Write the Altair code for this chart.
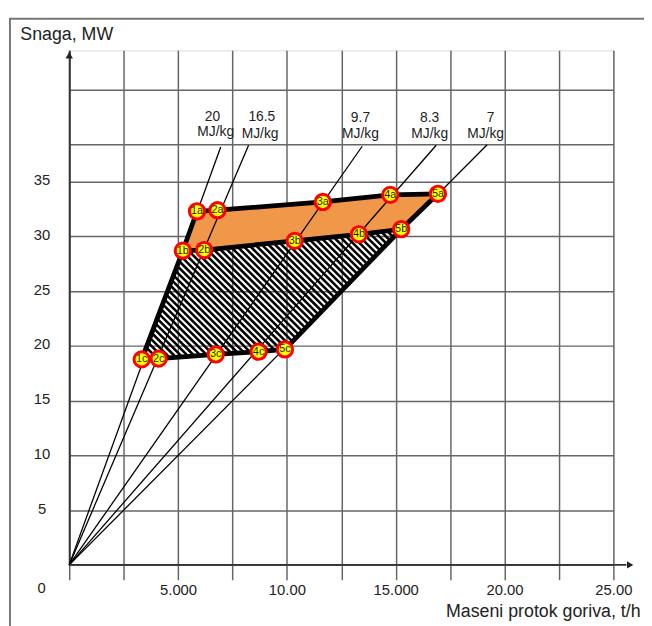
import altair as alt
import pandas as pd
import numpy as np

# ---------------- data ----------------
point_names = ["1a", "2a", "3a", "4a", "5a",
               "1b", "2b", "3b", "4b", "5b",
               "1c", "2c", "3c", "4c", "5c"]
point_x = [5.87, 6.81, 11.65, 14.75, 16.94,
           5.22, 6.20, 10.36, 13.31, 15.25,
           3.33, 4.11, 6.73, 8.70, 9.91]
point_y = [32.3, 32.4, 33.15, 33.8, 33.9,
           28.7, 28.76, 29.6, 30.2, 30.66,
           18.77, 18.84, 19.22, 19.47, 19.68]

heat_values = ["20", "16.5", "9.7", "8.3", "7"]
line_end_x = [6.96, 8.24, 13.46, 16.86, 19.20]
line_end_y = [38.18, 38.33, 38.24, 38.33, 38.38]
value_label_x = [6.58, 8.85, 13.38, 16.56, 19.36]
value_label_y = [40.9, 40.9, 40.8, 40.8, 40.8]
unit_label_x = [6.73, 8.77, 13.38, 16.56, 19.13]
unit_label_y = [39.5, 39.4, 39.4, 39.4, 39.4]
unit_text = "MJ/kg"

x_tick_values = [0, 2.5, 5, 7.5, 10, 12.5, 15, 17.5, 20, 22.5, 25]
x_tick_labels = ["", "", "5.000", "", "10.00", "", "15.000", "", "20.00", "", "25.00"]
y_tick_values = [0, 5, 10, 15, 20, 25, 30, 35, 38.45, 43.4]
y_tick_labels = ["", "5", "10", "15", "20", "25", "30", "35", "", ""]

orange_polygon = ["1a", "2a", "3a", "4a", "5a", "5b", "4b", "3b", "2b", "1b"]
hatch_polygon = ["1b", "5b", "5c", "1c"]
thick_paths = {
    "top": ["1a", "2a", "3a", "4a", "5a"],
    "mid": ["1b", "2b", "3b", "4b", "5b"],
    "bottom": ["1c", "2c", "3c", "4c", "5c"],
    "left": ["1a", "1b", "1c"],
    "right": ["5a", "5b", "5c"],
}

X_MAX, Y_MAX = 25, 47
W, H = 551, 521

# ---------------- tables ----------------
P = {n: (x, y) for n, x, y in zip(point_names, point_x, point_y)}
pts = pd.DataFrame({"name": point_names, "x": point_x, "y": point_y})

poly_df = pd.DataFrame({
    "x": [P[n][0] for n in orange_polygon],
    "y": [P[n][1] for n in orange_polygon],
    "ord": list(range(len(orange_polygon))),
})

rows = []
for k, (px, py) in enumerate(zip(line_end_x, line_end_y)):
    rows.append({"line": heat_values[k], "x": 0.0, "y": 0.0, "ord": 0})
    rows.append({"line": heat_values[k], "x": px, "y": py, "ord": 1})
rays = pd.DataFrame(rows)

rows = []
for key, names in thick_paths.items():
    for i, n in enumerate(names):
        rows.append({"path": key, "x": P[n][0], "y": P[n][1], "ord": i})
thick = pd.DataFrame(rows)

# hatch texture (45 degree on screen) clipped to the hatched polygon
s = (W / X_MAX) / (H / Y_MAX)
hp = [P[n] for n in hatch_polygon]
cv = [p[1] + s * p[0] for p in hp]
step = 6.7 / (H / Y_MAX)
rows = []
for j, c in enumerate(np.arange(min(cv) + step / 2, max(cv), step)):
    hits = []
    for i in range(len(hp)):
        a, b = hp[i], hp[(i + 1) % len(hp)]
        fa, fb = a[1] + s * a[0] - c, b[1] + s * b[0] - c
        if (fa > 0) != (fb > 0):
            t = fa / (fa - fb)
            hits.append((a[0] + t * (b[0] - a[0]), a[1] + t * (b[1] - a[1])))
    if len(hits) >= 2:
        hits.sort()
        rows.append({"seg": j, "x": hits[0][0], "y": hits[0][1], "ord": 0})
        rows.append({"seg": j, "x": hits[-1][0], "y": hits[-1][1], "ord": 1})
hatch = pd.DataFrame(rows)

num_df = pd.DataFrame({"t": heat_values, "x": value_label_x, "y": value_label_y})
unit_df = pd.DataFrame({"t": [unit_text] * 5, "x": unit_label_x, "y": unit_label_y})

# ---------------- axes ----------------
def ternary(vals, labs):
    expr = "''"
    for v, l in zip(reversed(vals), reversed(labs)):
        if l:
            expr = f"datum.value == {v} ? '{l}' : " + expr
    return expr

GRID = "#666666"
FONT = "Liberation Sans"

def X():
    return alt.X("x:Q", scale=alt.Scale(domain=[0, X_MAX], nice=False),
                 axis=alt.Axis(values=x_tick_values, grid=True, gridColor=GRID, gridWidth=1.5,
                               ticks=True, tickSize=15, tickColor=GRID, tickWidth=1.5,
                               domain=False, labelExpr=ternary(x_tick_values, x_tick_labels),
                               labelFontSize=15, labelPadding=3, labelColor="#222",
                               labelFont=FONT, labelFlush=False,
                               title="Maseni protok goriva, t/h", titleFont=FONT,
                               titleFontSize=18, titleFontWeight="normal", titleColor="#222",
                               titleAlign="right", titleAnchor="end", titleX=578, titleY=47,
                               titleBaseline="middle"))

def Y():
    return alt.Y("y:Q", scale=alt.Scale(domain=[0, Y_MAX], nice=False),
                 axis=alt.Axis(values=y_tick_values, grid=True, gridColor=GRID, gridWidth=1.5,
                               ticks=False, tickSize=0, domain=True, domainColor="#333",
                               domainWidth=2, labelExpr=ternary(y_tick_values, y_tick_labels),
                               labelAlign="center", labelPadding=28, labelFontSize=15,
                               labelColor="#222", labelFont=FONT, labelOffset=-2,
                               title="Snaga, MW", titleFont=FONT, titleFontSize=18,
                               titleFontWeight="normal", titleColor="#222", titleAngle=0,
                               titleAlign="left", titleX=-50, titleY=-16,
                               titleBaseline="middle"))

# ---------------- layers ----------------
frame = alt.Chart(pd.DataFrame({"a": [0]})).mark_rect(
    filled=False, stroke="#777", strokeWidth=2
).encode(x=alt.value(-60), x2=alt.value(800), y=alt.value(-32), y2=alt.value(800))

orange = alt.Chart(poly_df).mark_line(
    fill="#F0974A", stroke="#F0974A", strokeWidth=1
).encode(x=X(), y=Y(), order="ord:Q")

hatch_layer = alt.Chart(hatch).mark_line(
    color="black", strokeWidth=2.6, strokeCap="butt"
).encode(x=X(), y=Y(), detail="seg:N", order="ord:Q")

ray_layer = alt.Chart(rays).mark_line(color="black", strokeWidth=1.3).encode(
    x=X(), y=Y(), detail="line:N", order="ord:Q")

thick_layer = alt.Chart(thick).mark_line(
    color="black", strokeWidth=4.8, strokeJoin="round", strokeCap="round"
).encode(x=X(), y=Y(), detail="path:N", order="ord:Q")

x_axis_line = alt.Chart(pd.DataFrame({"x": [0, 25.6], "y": [0, 0]})).mark_line(
    color="#333", strokeWidth=2).encode(x=X(), y=Y())

arrows = alt.Chart(pd.DataFrame({"x": [25.77, 0], "y": [0, 46.55],
                                 "shape": ["triangle-right", "triangle-up"]})).mark_point(
    filled=True, color="#222", size=55, opacity=1
).encode(x=X(), y=Y(), shape=alt.Shape("shape:N", scale=None))

zero_lbl = alt.Chart(pd.DataFrame({"x": [0], "y": [0], "t": ["0"]})).mark_text(
    font=FONT, fontSize=15, color="#222", dx=-28, dy=23
).encode(x=X(), y=Y(), text="t:N")

circles = alt.Chart(pts).mark_point(
    shape="circle", filled=True, fill="#ffff00", stroke="#ff0000",
    strokeWidth=3, size=240, opacity=1
).encode(x=X(), y=Y())

circle_text = alt.Chart(pts).mark_text(
    font=FONT, fontSize=11, color="#1f1f00", baseline="middle"
).encode(x=X(), y=Y(), text="name:N")

num_text = alt.Chart(num_df).mark_text(
    font=FONT, fontSize=14, color="#222", baseline="middle"
).encode(x=X(), y=Y(), text="t:N")

unit_layer = alt.Chart(unit_df).mark_text(
    font=FONT, fontSize=14, color="#222", baseline="middle"
).encode(x=X(), y=Y(), text="t:N")

chart = alt.layer(
    frame, orange, hatch_layer, ray_layer, thick_layer, x_axis_line, arrows,
    zero_lbl, circles, circle_text, num_text, unit_layer
).properties(
    width=W, height=H,
    autosize=alt.AutoSizeParams(type="none"),
    padding={"left": 62, "top": 39, "right": 31, "bottom": 58},
).configure_view(stroke=None).configure(background="white")

chart.save("out.html", embed_options={"renderer": "svg", "actions": False})
